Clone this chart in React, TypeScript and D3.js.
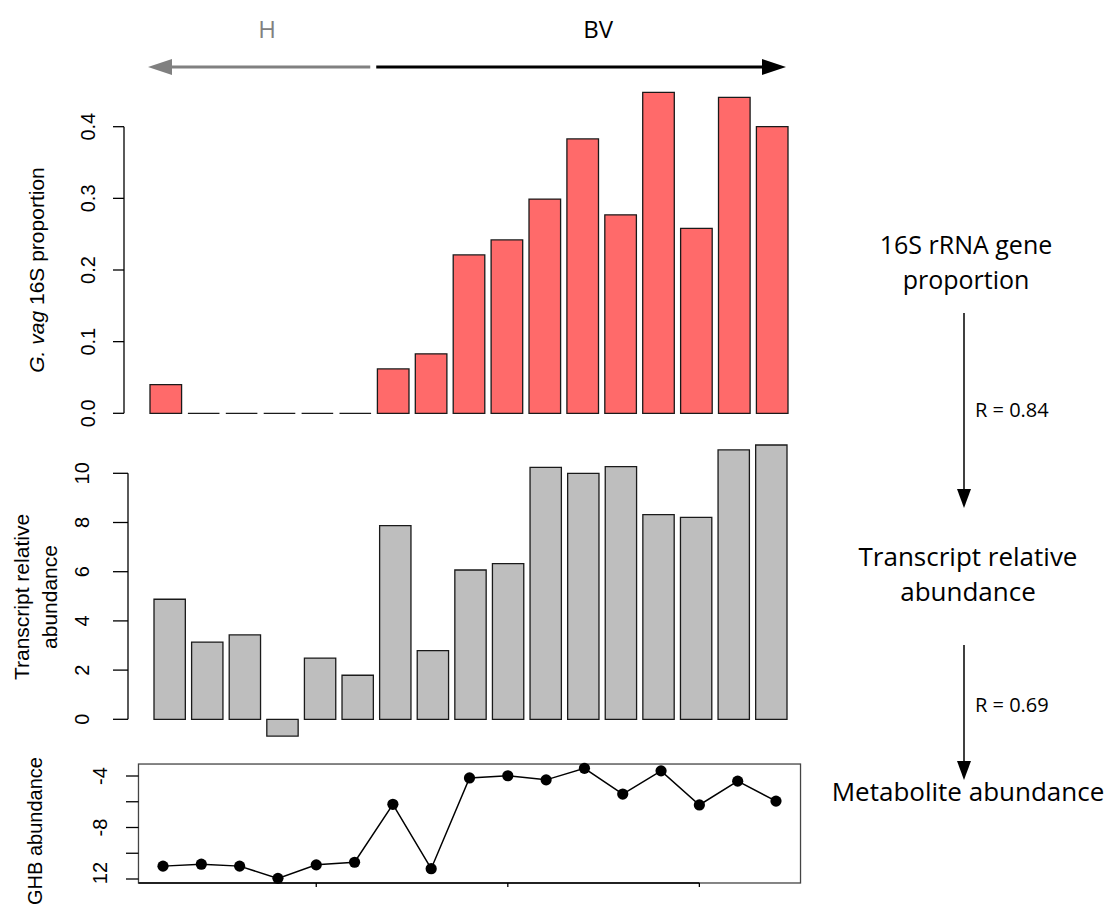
import React from 'react';
import * as d3 from 'd3';

// samples, H first then BV
const samples = d3.range(1, 18);
const gvagProportion = [0.04, 0, 0, 0, 0, 0, 0.062, 0.083, 0.221, 0.242, 0.299, 0.383, 0.277, 0.448, 0.258, 0.441, 0.4];
const transcriptAbundance = [4.88, 3.14, 3.43, -0.68, 2.49, 1.79, 7.87, 2.79, 6.07, 6.33, 10.24, 10.0, 10.27, 8.32, 8.21, 10.95, 11.15];
const ghbAbundance = [-11.0, -10.85, -11.0, -11.95, -10.9, -10.7, -6.2, -11.2, -4.15, -3.98, -4.3, -3.4, -5.4, -3.6, -6.25, -4.4, -5.95];

const propTicks = [0, 0.1, 0.2, 0.3, 0.4];
const transcriptTicks = [0, 2, 4, 6, 8, 10];
const ghbTicks = [-4, -6, -8, -10, -12];
const ghbTickLabels = ['-4', '', '-8', '', '12'];
const sampleTicks = [5, 10, 15];
const healthyCount = 6;
const groupLabels = ['H', 'BV'];
const flowLabels = [['16S rRNA gene', 'proportion'], ['Transcript relative', 'abundance'], ['Metabolite abundance']];
const correlations = ['R = 0.84', 'R = 0.69'];

const W = 1114;
const H = 907;
const rFont = '"Liberation Sans", Arial, sans-serif';
const sideFont = '"Open Sans", "Noto Sans", sans-serif';

function barPath(x: number, w: number, y0: number, y1: number) {
  return `M${x},${y0}H${x + w}V${y1}H${x}Z`;
}

export default function App() {
  // top panel
  const xTop = d3.scaleBand<number>().domain(samples).range([150, 788]).paddingInner(1 / 6).paddingOuter(0);
  const yTop = d3.scaleLinear().domain([0, 0.4]).range([413.3, 126.7]);
  // middle panel
  const xMid = d3.scaleBand<number>().domain(samples).range([154, 787]).paddingInner(1 / 6).paddingOuter(0);
  const yMid = d3.scaleLinear().domain([0, 10]).range([719.3, 473.3]);
  // bottom panel
  const xBot = d3.scaleLinear().domain([1, 17]).range([163, 776]);
  const yBot = d3.scaleLinear().domain([-4, -12]).range([776, 879]);
  const botBox = { x0: xBot(0.36), x1: xBot(17.64), y0: yBot(-3.07), y1: yBot(-12.31) };

  const line = d3
    .line<number>()
    .x((d, i) => xBot(samples[i]))
    .y((d) => yBot(d));

  const split = xTop(samples[healthyCount])! - xTop.step() * (1 / 12);
  const arrowY = 67;
  const leftEnd = xTop(samples[0])!;
  const rightEnd = xTop(samples[samples.length - 1])! + xTop.bandwidth();

  const sideX = 966;
  const arrowX = 964;

  return (
    <svg width={W} height={H} style={{ position: 'absolute', left: 0, top: 0, background: '#fff' }}>
      {/* group arrows */}
      <g>
        <line x1={leftEnd + 20} x2={split - 4} y1={arrowY} y2={arrowY} stroke="#808080" strokeWidth={3} />
        <path d={`M${leftEnd - 2},${arrowY}L${leftEnd + 22},${arrowY - 8}L${leftEnd + 22},${arrowY + 8}Z`} fill="#808080" />
        <line x1={split + 2} x2={rightEnd - 20} y1={arrowY} y2={arrowY} stroke="#000" strokeWidth={3} />
        <path d={`M${rightEnd - 2},${arrowY}L${rightEnd - 26},${arrowY - 8}L${rightEnd - 26},${arrowY + 8}Z`} fill="#000" />
        <text x={(leftEnd + split) / 2 + 5} y={38} textAnchor="middle" fontFamily={sideFont} fontSize={24} fill="#808080">
          {groupLabels[0]}
        </text>
        <text x={(split + rightEnd) / 2 + 17} y={38} textAnchor="middle" fontFamily={sideFont} fontSize={24} fill="#000">
          {groupLabels[1]}
        </text>
      </g>

      {/* top panel */}
      <g>
        {gvagProportion.map((v, i) => (
          <path
            key={i}
            d={barPath(xTop(samples[i])!, xTop.bandwidth(), yTop(0), yTop(v))}
            fill="#FF6A6A"
            stroke="#1a1a1a"
            strokeWidth={1.3}
          />
        ))}
        <line x1={124} x2={124} y1={yTop(0)} y2={yTop(0.4)} stroke="#000" strokeWidth={1.3} />
        {propTicks.map((t) => (
          <g key={t}>
            <line x1={113} x2={124} y1={yTop(t)} y2={yTop(t)} stroke="#000" strokeWidth={1.3} />
            <text
              transform={`translate(88,${yTop(t)}) rotate(-90)`}
              textAnchor="middle"
              dy="0.35em"
              fontFamily={rFont}
              fontSize={20}
            >
              {t.toFixed(1)}
            </text>
          </g>
        ))}
        <text
          transform={`translate(37,${(yTop(0) + yTop(0.4)) / 2}) rotate(-90)`}
          textAnchor="middle"
          dy="0.35em"
          fontFamily={rFont}
          fontSize={21}
        >
          <tspan fontStyle="italic">G. vag</tspan> 16S proportion
        </text>
      </g>

      {/* middle panel */}
      <g>
        {transcriptAbundance.map((v, i) => (
          <path
            key={i}
            d={barPath(xMid(samples[i])!, xMid.bandwidth(), yMid(0), yMid(v))}
            fill="#BEBEBE"
            stroke="#1a1a1a"
            strokeWidth={1.3}
          />
        ))}
        <line x1={128} x2={128} y1={yMid(0)} y2={yMid(10)} stroke="#000" strokeWidth={1.3} />
        {transcriptTicks.map((t) => (
          <g key={t}>
            <line x1={113} x2={128} y1={yMid(t)} y2={yMid(t)} stroke="#000" strokeWidth={1.3} />
            <text
              transform={`translate(82,${yMid(t)}) rotate(-90)`}
              textAnchor="middle"
              dy="0.35em"
              fontFamily={rFont}
              fontSize={20}
            >
              {t}
            </text>
          </g>
        ))}
        <text
          transform={`translate(22,597) rotate(-90)`}
          textAnchor="middle"
          dy="0.35em"
          fontFamily={rFont}
          fontSize={21}
        >
          Transcript relative
        </text>
        <text
          transform={`translate(50,597) rotate(-90)`}
          textAnchor="middle"
          dy="0.35em"
          fontFamily={rFont}
          fontSize={21}
        >
          abundance
        </text>
      </g>

      {/* bottom panel */}
      <g>
        <rect
          x={botBox.x0}
          y={botBox.y0}
          width={botBox.x1 - botBox.x0}
          height={botBox.y1 - botBox.y0}
          fill="none"
          stroke="#444"
          strokeWidth={1.3}
        />
        <line x1={botBox.x0} x2={xBot(15)} y1={botBox.y1} y2={botBox.y1} stroke="#000" strokeWidth={1.6} />
        {sampleTicks.map((t) => (
          <line key={t} x1={xBot(t)} x2={xBot(t)} y1={botBox.y1} y2={botBox.y1 + 4} stroke="#000" strokeWidth={1.3} />
        ))}
        {ghbTicks.map((t, i) => (
          <g key={t}>
            <line x1={126} x2={botBox.x0} y1={yBot(t)} y2={yBot(t)} stroke="#000" strokeWidth={1.3} />
            <text
              transform={`translate(100,${yBot(t) - (ghbTickLabels[i] === '12' ? 6 : 0)}) rotate(-90)`}
              textAnchor="middle"
              dy="0.35em"
              fontFamily={rFont}
              fontSize={20}
            >
              {ghbTickLabels[i]}
            </text>
          </g>
        ))}
        <text
          transform={`translate(35,831) rotate(-90)`}
          textAnchor="middle"
          dy="0.35em"
          fontFamily={rFont}
          fontSize={20}
        >
          GHB abundance
        </text>
        <path d={line(ghbAbundance) || ''} fill="none" stroke="#000" strokeWidth={1.5} />
        {ghbAbundance.map((v, i) => (
          <circle key={i} cx={xBot(samples[i])} cy={yBot(v)} r={5.6} fill="#000" />
        ))}
      </g>

      {/* right flow annotations */}
      <g fontFamily={sideFont} fill="#000">
        <text x={sideX} y={245} textAnchor="middle" dy="0.35em" fontSize={25}>{flowLabels[0][0]}</text>
        <text x={sideX} y={280} textAnchor="middle" dy="0.35em" fontSize={25}>{flowLabels[0][1]}</text>
        <line x1={arrowX} x2={arrowX} y1={313} y2={495} stroke="#000" strokeWidth={1.5} />
        <path d={`M${arrowX},508L${arrowX - 7},489L${arrowX + 7},489Z`} fill="#000" />
        <text x={975} y={410} dy="0.35em" fontSize={20}>{correlations[0]}</text>
        <text x={sideX + 2} y={557} textAnchor="middle" dy="0.35em" fontSize={26}>{flowLabels[1][0]}</text>
        <text x={sideX + 2} y={592} textAnchor="middle" dy="0.35em" fontSize={26}>{flowLabels[1][1]}</text>
        <line x1={arrowX} x2={arrowX} y1={645} y2={768} stroke="#000" strokeWidth={1.5} />
        <path d={`M${arrowX},780L${arrowX - 7},761L${arrowX + 7},761Z`} fill="#000" />
        <text x={975} y={705} dy="0.35em" fontSize={20}>{correlations[1]}</text>
        <text x={968} y={792} textAnchor="middle" dy="0.35em" fontSize={26}>{flowLabels[2][0]}</text>
      </g>
    </svg>
  );
}
